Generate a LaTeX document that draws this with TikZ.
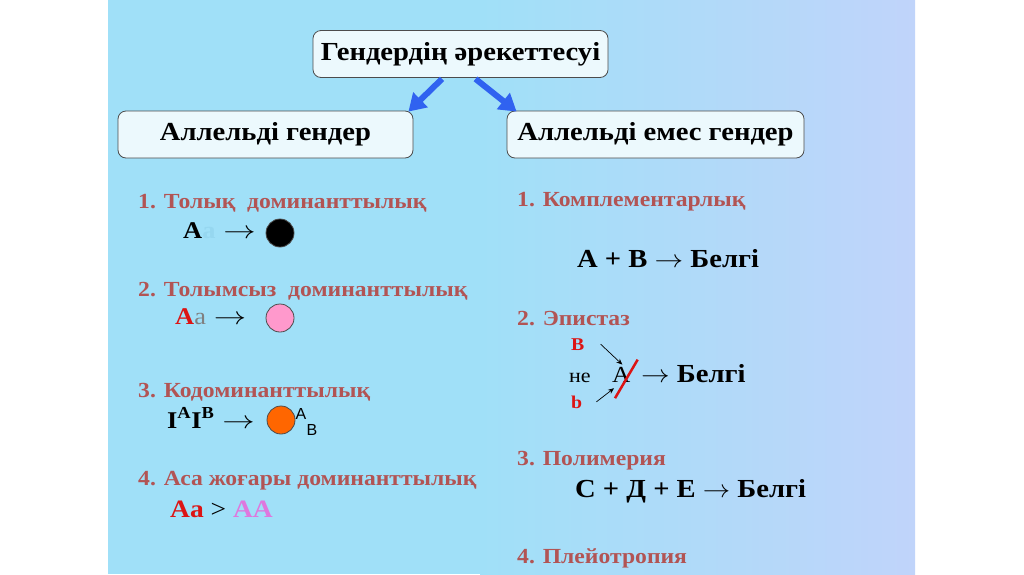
\documentclass[tikz,border=0pt]{standalone}
\usepackage{fontspec}
\setmainfont{Liberation Serif}[FakeStretch=1.1]
\newfontfamily\labelfont{Liberation Sans}
\usetikzlibrary{arrows.meta,positioning}
\definecolor{panelleft}{RGB}{160,224,248}
\definecolor{panelright}{RGB}{192,212,250}
\definecolor{headred}{RGB}{178,84,84}
\definecolor{arrowblue}{RGB}{48,98,240}
\definecolor{boxfill}{RGB}{236,249,253}
\definecolor{lightA}{RGB}{150,215,240}
\definecolor{greyA}{RGB}{128,128,128}
\definecolor{redA}{RGB}{220,20,20}
\definecolor{violetA}{RGB}{222,120,222}
\definecolor{pinkdot}{RGB}{255,153,204}
\definecolor{orangedot}{RGB}{255,102,0}
\tikzset{
  >=Stealth
}
\newcommand{\yields}{\scalebox{1.3}[1]{$\rightarrow$}}

\begin{document}
\begin{tikzpicture}[x=1pt,y=-1pt,
  genebox/.style={draw=black!70,fill=boxfill,rounded corners=8pt,line width=0.8pt,minimum height=47pt,font=\bfseries\fontsize{26}{28}\selectfont},
  head/.style={anchor=base west,inner sep=0pt,text=headred,font=\bfseries\fontsize{21.5}{23}\selectfont},
  formula/.style={anchor=base west,inner sep=0pt,font=\bfseries\fontsize{24}{26}\selectfont},
  bigformula/.style={anchor=base west,inner sep=0pt,font=\bfseries\fontsize{26}{28}\selectfont},
  dot/.style={circle,draw=black!70,line width=0.8pt,minimum size=28pt,inner sep=0pt},
  bluearrow/.style={-{Triangle[length=17pt,width=20pt]},line width=6pt,draw=arrowblue},
  thinarrow/.style={-{Stealth[length=6pt,width=5pt]},line width=0.7pt}]
        % background
        \fill[white] (0,0) rectangle (1024,574);
        \fill[panelleft] (108,0) rectangle (481,574);
        \fill[left color=panelleft,right color=panelright] (480,0) rectangle (915,574);

        % boxes
        \node (title) at (460.5,54) [genebox,minimum width=295pt] {Гендердің әрекеттесуі};
        \node (allel) at (265.5,134.5) [genebox,minimum width=295pt] {Аллельді гендер};
        \node (nonallel) at (655.5,134.5) [genebox,minimum width=297pt] {Аллельді емес гендер};

        \draw[bluearrow] ([shift={(-18.5,1)}]title.south) -- ([shift={(-5,1)}]allel.north east);
        \draw[bluearrow] ([shift={(15,1)}]title.south) -- ([shift={(10,1)}]nonallel.north west);

        % allelic genes
        \node (dom) at (138,208) [head] {1. Толық\ \ доминанттылық};
        \node (domf) at (183,238) [formula] {A\textcolor{lightA}{a}\hspace{8pt}\yields};
        \node (domc) at (280,233) [dot,fill=black] {};

        \node (incdom) at (138,296) [head] {2. Толымсыз\ \ доминанттылық};
        \node (incdomf) at (175,324) [formula] {\textcolor{redA}{A}\textcolor{greyA}{\mdseries a}\hspace{8pt}\yields};
        \node (incdomc) at (280,318) [dot,fill=pinkdot] {};

        \node (codom) at (138,397) [head] {3. Кодоминанттылық};
        \node (codomf) at (167,428) [formula] {I\textsuperscript{A}I\textsuperscript{B}\hspace{8pt}\yields};
        \node (codomc) at (281,420) [dot,fill=orangedot] {};
        \node (codoma) at (301,414) [inner sep=0pt,font=\labelfont\fontsize{16}{18}\selectfont] {A};
        \node (codomb) at (312,430) [inner sep=0pt,font=\labelfont\fontsize{16}{18}\selectfont] {B};

        \node (overdom) at (138,485) [head] {4. Аса жоғары доминанттылық};
        \node (overdomf) at (170,517) [formula,font=\bfseries\fontsize{25}{27}\selectfont] {\textcolor{redA}{Aa} {\mdseries >} \textcolor{violetA}{AA}};

        % non-allelic genes
        \node (compl) at (517,206) [head] {1. Комплементарлық};
        \node (complf) at (577,267) [bigformula] {A + B \scalebox{1.15}[1]{$\rightarrow$} Белгі};

        \node (epist) at (517,325) [head] {2. Эпистаз};
        \node (epB) at (571,350) [anchor=base west,inner sep=0pt,text=redA,font=\bfseries\fontsize{18}{20}\selectfont] {B};
        \node (epne) at (569,382) [anchor=base west,inner sep=0pt,font=\fontsize{20}{22}\selectfont] {не};
        \node (epb) at (571,408) [anchor=base west,inner sep=0pt,text=redA,font=\bfseries\fontsize{18}{20}\selectfont] {b};
        \node (epA) at (612,382) [anchor=base west,inner sep=0pt,font=\fontsize{23}{25}\selectfont] {A};
        \node (epf) at (641,382) [formula,font=\bfseries\fontsize{26}{28}\selectfont] {\scalebox{1.15}[1]{$\rightarrow$} Белгі};

        \draw[thinarrow] ([xshift=16pt]epB.east) -- ([shift={(1,-2)}]epA.north);
        \draw[thinarrow] ([xshift=14pt]epb.east) -- ([shift={(2,6)}]epA.south west);
        \draw[redA,line width=2.5pt] ([shift={(3,16)}]epA.south west) -- ([shift={(7,-7)}]epA.north east);

        \node (polym) at (517,465) [head] {3. Полимерия};
        \node (polymf) at (575,497) [bigformula] {C + Д + E \scalebox{1.1}[1]{$\rightarrow$} Белгі};

        \node (pleio) at (517,563) [head] {4. Плейотропия};
\end{tikzpicture}
\end{document}
